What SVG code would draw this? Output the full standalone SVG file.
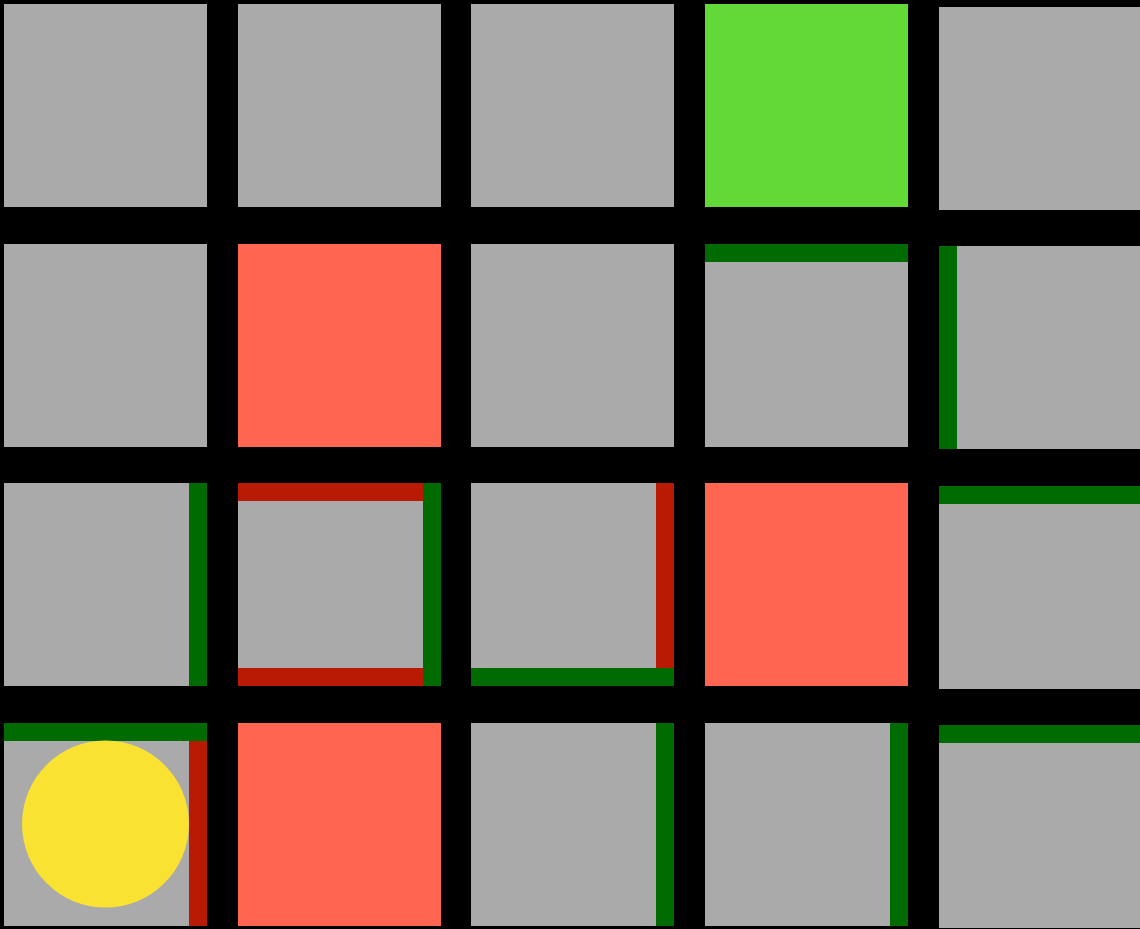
<svg xmlns="http://www.w3.org/2000/svg" width="1140" height="929" viewBox="0 0 1140 929">
<style>
.t{fill:#aaaaaa}
.goal{fill:#62d936}
.pit{fill:#ff6550}
.g{fill:#006b00}
.r{fill:#b81a03}
.agent{fill:#fae232}
</style>
<rect x="0" y="0" width="1140" height="929" fill="#000000"/>
<g id="row1">
<rect id="c11" class="t" x="4" y="4" width="203" height="203"/>
<rect id="c12" class="t" x="238" y="4" width="203" height="203"/>
<rect id="c13" class="t" x="471" y="4" width="203" height="203"/>
<rect id="c14" class="goal" x="705" y="4" width="203" height="203"/>
<rect id="c15" class="t" x="939" y="7" width="203" height="203"/>
</g>
<g id="row2">
<rect id="c21" class="t" x="4" y="244" width="203" height="203"/>
<rect id="c22" class="pit" x="238" y="244" width="203" height="203"/>
<rect id="c23" class="t" x="471" y="244" width="203" height="203"/>
<g id="c24"><rect class="t" x="705" y="244" width="203" height="203"/><rect class="g" x="705" y="244" width="203" height="18"/></g>
<g id="c25"><rect class="t" x="939" y="246" width="203" height="203"/><rect class="g" x="939" y="246" width="18" height="203"/></g>
</g>
<g id="row3">
<g id="c31"><rect class="t" x="4" y="483" width="203" height="203"/><rect class="g" x="189" y="483" width="18" height="203"/></g>
<g id="c32"><rect class="t" x="238" y="483" width="203" height="203"/><rect class="r" x="238" y="483" width="185" height="18"/><rect class="r" x="238" y="668" width="185" height="18"/><rect class="g" x="423" y="483" width="18" height="203"/></g>
<g id="c33"><rect class="t" x="471" y="483" width="203" height="203"/><rect class="r" x="656" y="483" width="18" height="185"/><rect class="g" x="471" y="668" width="203" height="18"/></g>
<rect id="c34" class="pit" x="705" y="483" width="203" height="203"/>
<g id="c35"><rect class="t" x="939" y="486" width="203" height="203"/><rect class="g" x="939" y="486" width="203" height="18"/></g>
</g>
<g id="row4">
<g id="c41"><rect class="t" x="4" y="723" width="203" height="203"/><rect class="g" x="4" y="723" width="203" height="18"/><rect class="r" x="189" y="741" width="18" height="185"/></g>
<rect id="c42" class="pit" x="238" y="723" width="203" height="203"/>
<g id="c43"><rect class="t" x="471" y="723" width="203" height="203"/><rect class="g" x="656" y="723" width="18" height="203"/></g>
<g id="c44"><rect class="t" x="705" y="723" width="203" height="203"/><rect class="g" x="890" y="723" width="18" height="203"/></g>
<g id="c45"><rect class="t" x="939" y="725" width="203" height="203"/><rect class="g" x="939" y="725" width="203" height="18"/></g>
</g>
<g id="agent"><circle class="agent" cx="105.5" cy="824" r="83.5"/></g>
<g id="connectors"></g>
</svg>
